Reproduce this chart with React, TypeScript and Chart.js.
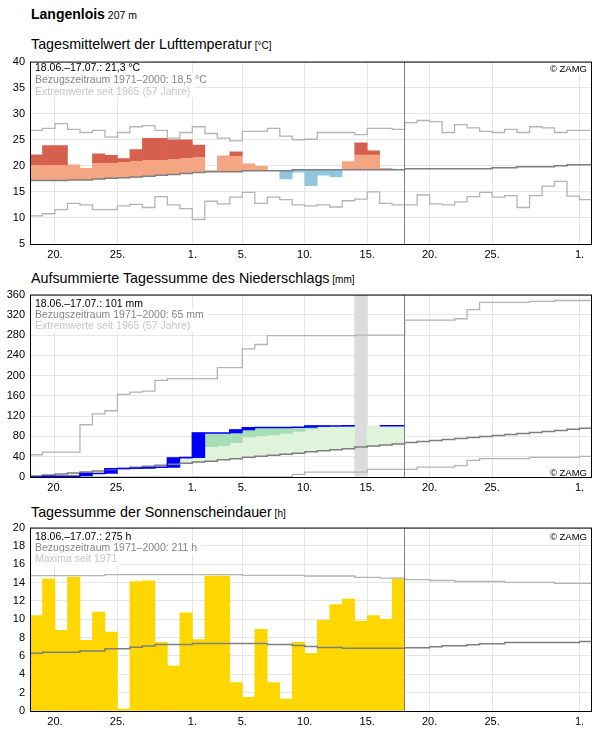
import React, { useEffect, useRef } from 'react';
import { Chart, registerables } from 'chart.js';

Chart.register(...registerables);

const FONT = '"Liberation Sans", Arial, Helvetica, sans-serif';
Chart.defaults.font.family = FONT;

// x axis: days counted from 18.06. 00:00
const X_MAX = 45;
const DATA_DAYS = 30;
const X_TICK_VALUES = [2, 7, 13, 17, 22, 27, 32, 37, 44];
const X_TICK_LABELS = ['20.', '25.', '1.', '5.', '10.', '15.', '20.', '25.', '1.'];

// ---------- Temperature (°C) ----------
const tempActual = [22.1, 23.9, 23.9, 20.2, 19.5, 22.3, 22.0, 21.4, 23.1, 25.3, 25.3, 25.0, 25.0, 24.0, 19.1,
  21.9, 22.7, 20.4, 19.9, 19.05, 17.5, 18.8, 16.2, 18.2, 17.9, 20.8, 24.4, 22.9, 19.5, 19.25];
const tempMean = [17.17, 17.17, 17.17, 17.29, 17.29, 17.48, 17.6, 17.73, 17.85, 17.98, 18.17, 18.36, 18.55, 18.74, 18.87,
  18.87, 18.87, 19.05, 19.05, 19.05, 19.05, 19.24, 19.24, 19.24, 19.24, 19.24, 19.24, 19.24, 19.24, 19.24,
  19.43, 19.43, 19.43, 19.43, 19.43, 19.43, 19.43, 19.62, 19.62, 19.81, 19.81, 19.81, 20.0, 20.2, 20.2];
const tempThreshold = [20.24, 20.24, 20.24, 20.3, 20.3, 20.6, 20.6, 20.8, 21.0, 21.18, 21.18, 21.37, 21.56, 21.75, 21.9,
  21.95, 21.95, 22.05, 22.05, 22.05, 22.05, 22.18, 22.18, 22.18, 22.18, 22.18, 22.18, 22.18, 22.18, 22.18];
const tempMax = [26.8, 27.2, 28.1, 27.0, 26.4, 26.8, 25.5, 26.4, 27.5, 27.7, 26.8, 25.3, 26.4, 27.5, 26.2,
  25.3, 24.8, 26.6, 26.6, 27.2, 25.7, 25.0, 25.1, 26.4, 26.4, 26.4, 26.0, 27.2, 27.2, 27.0,
  28.3, 28.7, 28.5, 26.4, 27.9, 27.3, 26.6, 26.4, 27.0, 26.4, 27.5, 27.3, 26.4, 26.8, 26.8];
const tempMin = [10.4, 10.8, 11.6, 12.8, 12.5, 11.6, 11.6, 12.3, 12.6, 12.0, 14.1, 12.5, 11.8, 9.7, 13.2,
  12.7, 14.0, 14.9, 12.8, 14.0, 13.5, 12.5, 12.3, 12.5, 12.1, 13.3, 13.6, 15.0, 12.8, 12.5,
  12.5, 14.4, 12.7, 12.5, 13.1, 14.1, 14.9, 14.0, 14.3, 12.0, 14.3, 16.1, 17.0, 14.2, 13.5];

// ---------- Precipitation (mm) ----------
const precipDaily: (number | null)[] = [0.2, 1.3, 0, 0, 5.5, 0, 9.5, 0.4, 0.3, 1.0, 0.8, 18.5, 0.8, 48.5, 0,
  0, 6.0, 4.5, 0.3, 0, 0.3, 0.2, 2.4, 0.2, 0, 0.3, null, 0, 0, 0];
const precipMean = [2, 4, 6, 8, 10, 12, 15, 17, 19, 21, 23, 25, 27, 29.7, 31,
  34, 36, 39, 41, 43, 45, 47, 50, 52, 54, 56, 59, 61, 63, 65,
  68, 70, 72, 74, 76, 78, 80, 82, 84, 86, 88, 90, 92, 94, 96];
const precipThreshold = [4, 8, 12, 15, 19, 22, 26, 29, 33, 36, 40, 44, 48, 55, 60,
  62, 68, 79, 81, 83, 86, 90, 95, 99, 102, 104, 106, 108, 110, 112];
const precipMax = [43.9, 49, 49, 49, 103.1, 124.4, 130.8, 163, 167.5, 169.4, 190.6, 194, 194, 194, 194,
  215.7, 215.7, 253, 261.5, 278.9, 278.9, 278.9, 278.9, 278.9, 278.9, 278.9, 280, 280, 280, 280,
  309.8, 309.8, 309.8, 309.8, 312.3, 330.3, 344.5, 344.5, 344.5, 344.5, 346.5, 346.5, 348.4, 348.4, 348.4];
const precipMin = [0, 0, 0, 0, 0, 0, 0, 0, 0, 0, 0, 0, 0, 0, 0,
  0, 0, 0, 0, 0, 0, 5.2, 9.7, 9.7, 9.7, 9.7, 9.7, 14.9, 14.9, 14.9,
  14.9, 19.3, 19.3, 19.3, 22.6, 32.9, 36.1, 36.1, 36.1, 36.1, 38.6, 38.6, 38.6, 38.6, 40.6];

// ---------- Sunshine (h) ----------
const sunActual = [10.4, 14.4, 8.8, 14.6, 7.7, 10.8, 8.6, 0.2, 14.1, 14.2, 7.5, 4.9, 10.7, 7.8, 14.7,
  14.7, 3.1, 1.5, 8.9, 3.1, 1.3, 7.5, 6.3, 9.9, 11.6, 12.2, 9.8, 10.4, 10.0, 14.4];
const sunMean = [6.3, 6.4, 6.4, 6.4, 6.55, 6.55, 6.8, 6.8, 6.95, 7.08, 7.26, 7.26, 7.26, 7.37, 7.37,
  7.37, 7.37, 7.37, 7.37, 7.26, 7.26, 7.15, 7.04, 6.93, 6.93, 6.83, 6.83, 6.83, 6.83, 6.83,
  6.9, 6.9, 7.0, 7.12, 7.12, 7.22, 7.33, 7.33, 7.47, 7.47, 7.47, 7.47, 7.47, 7.47, 7.58];
const sunMax = [14.76, 14.76, 14.76, 14.76, 14.76, 14.76, 14.87, 14.87, 14.87, 14.87, 14.87, 14.87, 14.87, 14.87, 14.87,
  14.87, 14.87, 14.8, 14.8, 14.8, 14.8, 14.8, 14.72, 14.72, 14.72, 14.72, 14.58, 14.58, 14.48, 14.48,
  14.33, 14.33, 14.23, 14.23, 14.12, 14.12, 14.12, 14.12, 14.02, 14.02, 14.02, 14.02, 13.91, 13.91, 13.91];

// ---------- Texts ----------
const GRAY_TXT = '#858585';
const LIGHT_TXT = '#c6c6c6';
const TEMP_LEGEND = [
  { text: '18.06.–17.07.: 21,3 °C', color: '#000' },
  { text: 'Bezugszeitraum 1971–2000: 18,5 °C', color: GRAY_TXT },
  { text: 'Extremwerte seit 1965 (57 Jahre)', color: LIGHT_TXT },
];
const PRECIP_LEGEND = [
  { text: '18.06.–17.07.: 101 mm', color: '#000' },
  { text: 'Bezugszeitraum 1971–2000: 65 mm', color: GRAY_TXT },
  { text: 'Extremwerte seit 1965 (57 Jahre)', color: LIGHT_TXT },
];
const SUN_LEGEND = [
  { text: '18.06.–17.07.: 275 h', color: '#000' },
  { text: 'Bezugszeitraum 1971–2000: 211 h', color: GRAY_TXT },
  { text: 'Maxima seit 1971', color: LIGHT_TXT },
];

// ---------- Styles ----------
const GRID = '#e6e6e6';
const MEAN_COLOR = '#7f7f7f';
const EXT_COLOR = '#b4b4b4';
const PANEL_TOPS = [58, 291, 524];
const PLOT_H = [186, 186, 187];
const PAD_TOP = 8;
const XAXIS_H = [19, 19, 18];

type Range = [number, number] | null;

function stepPoints(values: (number | null)[]) {
  const pts: { x: number; y: number | null }[] = [{ x: 0, y: values[0] }];
  values.forEach((v, i) => pts.push({ x: i + 1, y: v }));
  return pts;
}
function barPoints(ranges: Range[]) {
  const out: { x: number; y: [number, number] }[] = [];
  ranges.forEach((r, i) => { if (r) out.push({ x: i + 0.5, y: r }); });
  return out;
}
function stepLine(values: (number | null)[], color: string, width: number, order: number) {
  return {
    type: 'line', data: stepPoints(values), borderColor: color, borderWidth: width,
    pointRadius: 0, stepped: 'after', fill: false, spanGaps: false, order,
  };
}
function floatBars(ranges: Range[], color: string, order: number) {
  return {
    type: 'bar', data: barPoints(ranges), backgroundColor: color, borderWidth: 0,
    barPercentage: 1, categoryPercentage: 1, grouped: false, order,
  };
}

// derived fills for the temperature panel
const tempSalmon: Range[] = tempActual.map((a, i) => a > tempMean[i] ? [tempMean[i], Math.min(a, tempThreshold[i])] : null);
const tempRed: Range[] = tempActual.map((a, i) => a > tempThreshold[i] ? [tempThreshold[i], a] : null);
const tempBlue: Range[] = tempActual.map((a, i) => a < tempMean[i] ? [a, tempMean[i]] : null);

// derived cumulative precipitation
const precipCum: (number | null)[] = [];
const precipPrev: number[] = [];
{
  let run = 0;
  precipDaily.forEach((d) => {
    precipPrev.push(run);
    if (d === null) precipCum.push(null);
    else { run += d; precipCum.push(Math.round(run * 10) / 10); }
  });
}
const precipLight: Range[] = precipCum.map((c, i) => c !== null && c > precipMean[i] ? [precipMean[i], Math.min(c, precipThreshold[i])] : null);
const precipMedium: Range[] = precipCum.map((c, i) => c !== null && c > precipThreshold[i] ? [precipThreshold[i], c] : null);
const precipDeficit: Range[] = precipCum.map((c, i) => c !== null && c < precipMean[i] ? [c, precipMean[i]] : null);
const precipBlocks: Range[] = precipDaily.map((d, i) => d !== null && d > 0 ? [precipPrev[i], precipCum[i] as number] : null);
const precipMissing: Range[] = precipDaily.map((d) => d === null ? [0, 360] : null);

const sunBars: Range[] = sunActual.map((v) => [0, v]);

type Line = { text: string; color: string };

function overlayPlugin(lines: Line[], offsets: number[], zamgOffset: number, zamgBottom: boolean) {
  return {
    id: 'overlay',
    beforeDatasetsDraw(chart: any) {
      const { ctx, chartArea: a } = chart;
      ctx.save();
      ctx.font = `10.5px ${FONT}`;
      ctx.textAlign = 'left';
      ctx.textBaseline = 'alphabetic';
      lines.forEach((l, i) => {
        const base = a.top + offsets[i];
        const w = ctx.measureText(l.text).width;
        ctx.fillStyle = '#ffffff';
        ctx.fillRect(a.left + 1, base - 10, w + 8, 12.5);
        ctx.fillStyle = l.color;
        ctx.fillText(l.text, a.left + 5, base);
      });
      ctx.font = `9.5px ${FONT}`;
      ctx.textAlign = 'right';
      const zy = zamgBottom ? a.bottom - zamgOffset : a.top + zamgOffset;
      const zw = ctx.measureText('© ZAMG').width;
      ctx.fillStyle = '#ffffff';
      ctx.fillRect(a.right - zw - 8, zy - 9, zw + 7, 11);
      ctx.fillStyle = '#000';
      ctx.fillText('© ZAMG', a.right - 5, zy);
      ctx.restore();
    },
    afterDatasetsDraw(chart: any) {
      const { ctx, chartArea: a, scales } = chart;
      ctx.save();
      const x = Math.round(scales.x.getPixelForValue(DATA_DAYS)) - 0.5;
      ctx.strokeStyle = '#808080';
      ctx.lineWidth = 1;
      ctx.beginPath();
      ctx.moveTo(x, a.top);
      ctx.lineTo(x, a.bottom);
      ctx.stroke();
      ctx.strokeStyle = '#000';
      ctx.strokeRect(a.left + 0.5, a.top + 0.5, a.right - a.left - 1, a.bottom - a.top);
      ctx.restore();
    },
  };
}

function makeOptions(yMin: number, yMax: number, yStep: number, xAxisH: number) {
  return {
    responsive: false,
    animation: false,
    events: [],
    layout: { padding: { left: 0, right: 4, top: PAD_TOP, bottom: 0 } },
    plugins: { legend: { display: false }, tooltip: { enabled: false }, title: { display: false } },
    scales: {
      x: {
        type: 'linear', min: 0, max: X_MAX, offset: false,
        afterBuildTicks: (s: any) => { s.ticks = X_TICK_VALUES.map((v) => ({ value: v })); },
        afterFit: (s: any) => { s.height = xAxisH; },
        grid: { color: GRID, drawTicks: false, offset: false, lineWidth: 1 },
        border: { display: false },
        ticks: {
          autoSkip: false, maxRotation: 0, minRotation: 0, padding: 4, color: '#000',
          font: { family: FONT, size: 11 },
          callback: (_v: any, i: number) => X_TICK_LABELS[i] ?? '',
        },
      },
      y: {
        type: 'linear', min: yMin, max: yMax,
        afterFit: (s: any) => { s.width = 30; },
        grid: { color: GRID, drawTicks: false, lineWidth: 1 },
        border: { display: false },
        ticks: { stepSize: yStep, padding: 5, color: '#000', font: { family: FONT, size: 11 } },
      },
    },
  };
}

export default function App() {
  const c1 = useRef<HTMLCanvasElement>(null);
  const c2 = useRef<HTMLCanvasElement>(null);
  const c3 = useRef<HTMLCanvasElement>(null);

  useEffect(() => {
    const charts: Chart[] = [];
    charts.push(new Chart(c1.current as HTMLCanvasElement, {
      type: 'bar',
      data: {
        datasets: [
          stepLine(tempMean, MEAN_COLOR, 1.5, 1),
          stepLine(tempMax, EXT_COLOR, 1.3, 2),
          stepLine(tempMin, EXT_COLOR, 1.3, 2),
          floatBars(tempRed, '#d6604d', 5),
          floatBars(tempSalmon, '#f4a582', 6),
          floatBars(tempBlue, '#92c5de', 6),
        ] as any,
      },
      options: makeOptions(5, 40, 5, XAXIS_H[0]) as any,
      plugins: [overlayPlugin(TEMP_LEGEND, [9, 21.3, 33.5], 10.5, false)],
    }));
    charts.push(new Chart(c2.current as HTMLCanvasElement, {
      type: 'bar',
      data: {
        datasets: [
          stepLine(precipCum, '#0000ff', 1.5, 1),
          stepLine(precipMean, MEAN_COLOR, 1.5, 2),
          stepLine(precipMax, EXT_COLOR, 1.3, 3),
          stepLine(precipMin, EXT_COLOR, 1.3, 3),
          floatBars(precipBlocks, '#0000ff', 4),
          floatBars(precipMedium, '#a8ddb5', 6),
          floatBars(precipLight, '#e0f3db', 7),
          floatBars(precipDeficit, '#f6ecc0', 7),
          floatBars(precipMissing, '#dcdcdc', 10),
        ] as any,
      },
      options: makeOptions(0, 360, 40, XAXIS_H[1]) as any,
      plugins: [overlayPlugin(PRECIP_LEGEND, [12.5, 23.8, 34.8], 1.5, true)],
    }));
    charts.push(new Chart(c3.current as HTMLCanvasElement, {
      type: 'bar',
      data: {
        datasets: [
          stepLine(sunMean, MEAN_COLOR, 1.5, 1),
          stepLine(sunMax, EXT_COLOR, 1.3, 2),
          floatBars(sunBars, '#ffd700', 6),
        ] as any,
      },
      options: makeOptions(0, 20, 2, XAXIS_H[2]) as any,
      plugins: [overlayPlugin(SUN_LEGEND, [12.5, 23.8, 34.8], 12.5, false)],
    }));
    return () => charts.forEach((c) => c.destroy());
  }, []);

  const titleStyle = (baseline: number): React.CSSProperties => ({
    position: 'absolute', left: 31, top: baseline - 0.8465 * 14.3, fontSize: 14.3, lineHeight: 1,
    whiteSpace: 'nowrap', color: '#000',
  });
  const unit: React.CSSProperties = { fontSize: 10 };
  const canvasH = (i: number) => PAD_TOP + PLOT_H[i] + XAXIS_H[i];
  const canvasStyle = (i: number): React.CSSProperties => ({
    position: 'absolute', left: 0, top: PANEL_TOPS[i] - PAD_TOP, width: 596, height: canvasH(i),
  });

  return (
    <div style={{ position: 'absolute', left: 0, top: 0, width: 596, height: 729, overflow: 'hidden', background: '#fff', fontFamily: FONT }}>
      <div style={{ position: 'absolute', left: 31, top: 19 - 0.8465 * 14, fontSize: 14, lineHeight: 1, fontWeight: 'bold', whiteSpace: 'nowrap' }}>
        Langenlois<span style={{ fontSize: 10.5, fontWeight: 'normal' }}> 207 m</span>
      </div>
      <div style={titleStyle(49)}>Tagesmittelwert der Lufttemperatur<span style={unit}> [°C]</span></div>
      <div style={titleStyle(283.3)}>Aufsummierte Tagessumme des Niederschlags<span style={unit}> [mm]</span></div>
      <div style={titleStyle(516.7)}>Tagessumme der Sonnenscheindauer<span style={unit}> [h]</span></div>
      <canvas ref={c1} width={596} height={canvasH(0)} style={canvasStyle(0)} />
      <canvas ref={c2} width={596} height={canvasH(1)} style={canvasStyle(1)} />
      <canvas ref={c3} width={596} height={canvasH(2)} style={canvasStyle(2)} />
    </div>
  );
}
